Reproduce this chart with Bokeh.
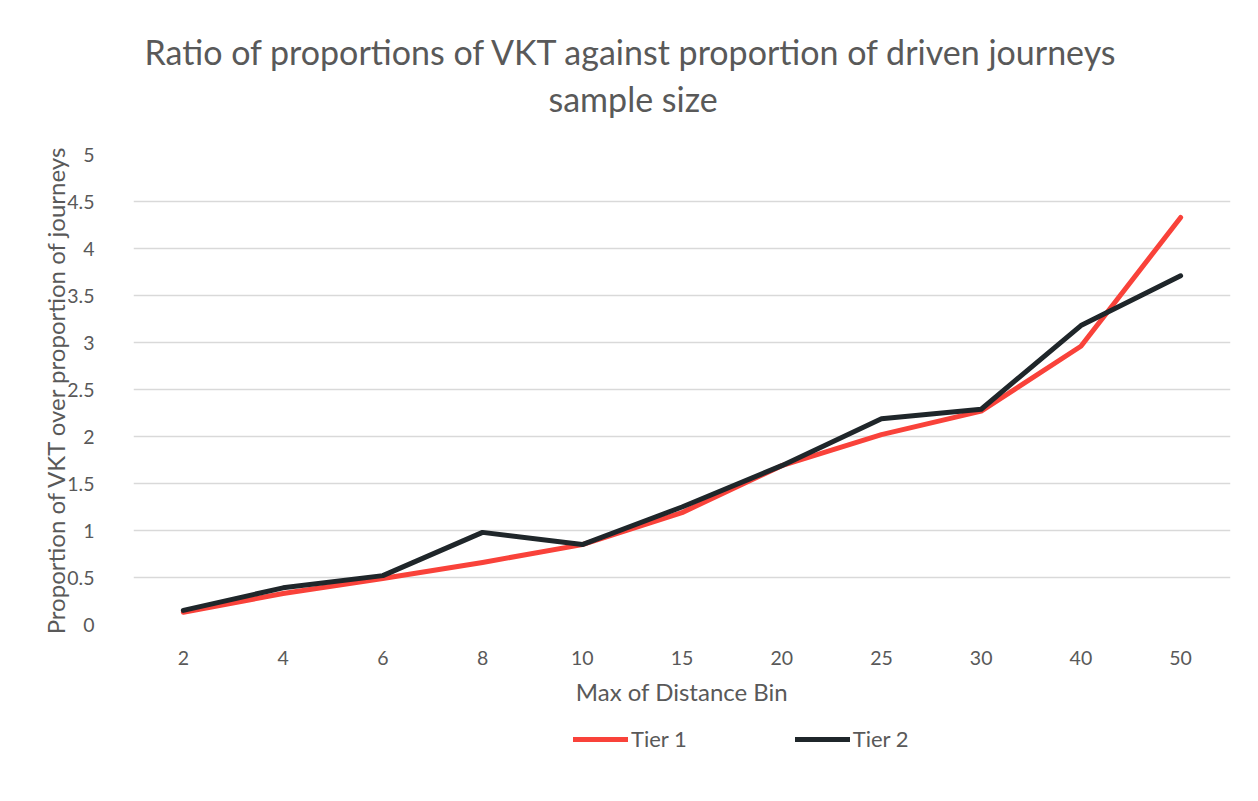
from bokeh.plotting import figure
from bokeh.layouts import column
from bokeh.models import FactorRange, Range1d, Legend, LegendItem, FixedTicker, Title
from bokeh.embed import file_html
from bokeh.resources import INLINE

bins = ["2", "4", "6", "8", "10", "15", "20", "25", "30", "40", "50"]
tier1 = [0.13, 0.33, 0.49, 0.66, 0.85, 1.19, 1.69, 2.02, 2.27, 2.96, 4.33]
tier2 = [0.15, 0.39, 0.52, 0.98, 0.85, 1.25, 1.69, 2.19, 2.29, 3.18, 3.71]
series_names = ["Tier 1", "Tier 2"]
y_ticks = [0, 0.5, 1, 1.5, 2, 2.5, 3, 3.5, 4, 4.5, 5]
y_tick_labels = {0: "0", 0.5: "0.5", 1: "1", 1.5: "1.5", 2: "2", 2.5: "2.5",
                 3: "3", 3.5: "3.5", 4: "4", 4.5: "4.5", 5: "5"}

FONT = "Lato"
TXT = "#595959"
RED = "#F9423A"
DARK = "#1F262A"
W = 1258

p = figure(width=W, height=720, x_range=FactorRange(*bins), y_range=Range1d(0, 5),
           output_backend="svg", toolbar_location=None,
           min_border_left=133, min_border_right=28, min_border_top=154,
           min_border_bottom=96)
p.outline_line_color = None
p.background_fill_color = "white"
p.border_fill_color = "white"

r1 = p.line(bins, tier1, line_color=RED, line_width=5, line_cap="round", line_join="round")
r2 = p.line(bins, tier2, line_color=DARK, line_width=5, line_cap="round", line_join="round")

p.xgrid.grid_line_color = None
p.ygrid.grid_line_color = "#D9D9D9"
p.ygrid.grid_line_width = 1.5
p.yaxis.ticker = FixedTicker(ticks=y_ticks)
p.yaxis.major_label_overrides = y_tick_labels

for ax in (p.xaxis[0], p.yaxis[0]):
    ax.axis_line_color = None
    ax.major_tick_line_color = None
    ax.minor_tick_line_color = None
    ax.major_label_text_color = TXT
    ax.major_label_text_font = FONT
    ax.major_label_text_font_size = "19.5px"
    ax.axis_label_text_color = TXT
    ax.axis_label_text_font = FONT
    ax.axis_label_text_font_size = "24px"
    ax.axis_label_text_font_style = "normal"
p.xaxis.major_label_standoff = 20
p.yaxis.major_label_standoff = 33
p.xaxis.axis_label = "Max of Distance Bin"
p.yaxis.axis_label = "Proportion of VKT over proportion of journeys"
p.xaxis.axis_label_standoff = 9
p.yaxis.axis_label_standoff = -6

# Titles (first added sits closest to the plot)
p.add_layout(Title(text="sample size", align="left", offset=415, text_font=FONT,
                   text_font_size="34px", text_color=TXT, text_font_style="normal",
                   standoff=71), "above")
p.add_layout(Title(text="Ratio of proportions of VKT against proportion of driven journeys",
                   align="left", offset=11, text_font=FONT, text_font_size="34px",
                   text_color=TXT, text_font_style="normal", standoff=-63), "above")

# Legend strip underneath (its own small figure; its copies of the series lie outside its view)
lg = figure(width=W, height=81, x_range=FactorRange(*bins), y_range=Range1d(100, 101),
            output_backend="svg", toolbar_location=None,
            min_border_left=0, min_border_right=0, min_border_top=0, min_border_bottom=0)
lg.axis.visible = False
lg.grid.grid_line_color = None
lg.outline_line_color = None
lg.border_fill_color = "white"
s1 = lg.line(bins, tier1, line_color=RED, line_width=5, line_cap="round")
s2 = lg.line(bins, tier2, line_color=DARK, line_width=5, line_cap="round")
legend = Legend(items=[LegendItem(label=series_names[0], renderers=[s1]),
                       LegendItem(label=series_names[1], renderers=[s2])],
                orientation="horizontal", location=(440, 49),
                glyph_width=55, glyph_height=20, label_standoff=3, spacing=108,
                padding=0, margin=0, border_line_color=None, background_fill_alpha=0,
                label_text_font=FONT, label_text_font_size="22px", label_text_color=TXT)
lg.add_layout(legend, "center")

open("out.html", "w").write(file_html(column(p, lg), INLINE))
